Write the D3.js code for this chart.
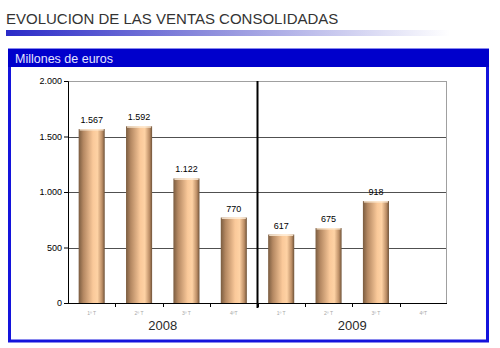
<!DOCTYPE html>
<html>
<head>
<meta charset="utf-8">
<script src="https://cdn.jsdelivr.net/npm/d3@7"></script>
<style>
  html, body { margin: 0; padding: 0; background: #fff; }
  svg { display: block; font-family: "Liberation Sans", Arial, sans-serif; }
</style>
</head>
<body>
<div id="wrapper"></div>
<script>
// ventas por trimestre, millones de euros
const years = ["2008", "2009"]
const quarters = ["1º T", "2º T", "3º T", "4ºT"]
const sales2008 = [1567, 1592, 1122, 770]
const sales2009 = [617, 675, 918, null]
const yTicks = [0, 500, 1000, 1500, 2000]

const dataset = []
quarters.forEach((q, i) => dataset.push({ year: "2008", q: q, key: "2008-" + i, value: sales2008[i] }))
quarters.forEach((q, i) => dataset.push({ year: "2009", q: q, key: "2009-" + i, value: sales2009[i] }))

const dms = {
  width: 500,
  height: 348,
  margin: { top: 81, right: 53, bottom: 45, left: 68 },
}
dms.boundedWidth = dms.width - dms.margin.left - dms.margin.right
dms.boundedHeight = dms.height - dms.margin.top - dms.margin.bottom

const es = d3.formatLocale({ decimal: ",", thousands: ".", grouping: [3], currency: ["", " €"] })
const fmt = es.format(",d")

const svg = d3.select("#wrapper")
  .append("svg")
  .attr("width", dms.width)
  .attr("height", dms.height)

const defs = svg.append("defs")

// title underline fading to white
const fade = defs.append("linearGradient").attr("id", "fade")
fade.append("stop").attr("offset", "0%").attr("stop-color", "#2a2ac8")
fade.append("stop").attr("offset", "45%").attr("stop-color", "#8c8cdc")
fade.append("stop").attr("offset", "100%").attr("stop-color", "#fff")

// cylinder look for the bars
const cyl = defs.append("linearGradient").attr("id", "cyl")
cyl.append("stop").attr("offset", "0%").attr("stop-color", "#7a5c40")
cyl.append("stop").attr("offset", "18%").attr("stop-color", "#b48862")
cyl.append("stop").attr("offset", "55%").attr("stop-color", "#fac99a")
cyl.append("stop").attr("offset", "72%").attr("stop-color", "#fed2a4")
cyl.append("stop").attr("offset", "90%").attr("stop-color", "#bc8e66")
cyl.append("stop").attr("offset", "100%").attr("stop-color", "#6e5238")

// heading
svg.append("text")
  .attr("x", 6)
  .attr("y", 24)
  .attr("font-size", 15)
  .attr("fill", "#333")
  .text("EVOLUCION DE LAS VENTAS CONSOLIDADAS")

svg.append("rect")
  .attr("x", 6).attr("y", 30)
  .attr("width", 444).attr("height", 6)
  .attr("fill", "url(#fade)")

// framed panel
svg.append("rect")
  .attr("x", 9.5).attr("y", 50)
  .attr("width", 478).attr("height", 291)
  .attr("fill", "#fff")
  .attr("stroke", "#1414dc")
  .attr("stroke-width", 3)

svg.append("rect")
  .attr("x", 8).attr("y", 49)
  .attr("width", 481).attr("height", 18)
  .attr("fill", "#0000cc")

svg.append("text")
  .attr("x", 15)
  .attr("y", 63)
  .attr("font-size", 12.5)
  .attr("fill", "#e4e4ff")
  .text("Millones de euros")

const bounds = svg.append("g")
  .attr("transform", `translate(${dms.margin.left},${dms.margin.top})`)

// scales
const xScale = d3.scaleBand()
  .domain(dataset.map(d => d.key))
  .range([0, dms.boundedWidth])
  .paddingInner(0.45)
  .paddingOuter(0.225)

const slot = d3.scaleBand()
  .domain(dataset.map(d => d.key))
  .range([0, dms.boundedWidth])

const yearScale = d3.scaleBand()
  .domain(years)
  .range([0, dms.boundedWidth])

const yScale = d3.scaleLinear()
  .domain([0, 2000])
  .range([dms.boundedHeight, 0])

// gridlines
bounds.append("g")
  .selectAll("line")
  .data(yTicks.filter(t => t > 0))
  .join("line")
  .attr("x1", 0)
  .attr("x2", dms.boundedWidth)
  .attr("y1", d => Math.round(yScale(d)) + 0.5)
  .attr("y2", d => Math.round(yScale(d)) + 0.5)
  .attr("stroke", d => d === 2000 ? "#a0a0a0" : "#505050")

bounds.append("line")
  .attr("x1", dms.boundedWidth - 0.5)
  .attr("x2", dms.boundedWidth - 0.5)
  .attr("y1", 0)
  .attr("y2", dms.boundedHeight)
  .attr("stroke", "#a0a0a0")

// bars
const bars = bounds.append("g")
  .selectAll("g")
  .data(dataset.filter(d => d.value != null))
  .join("g")

bars.append("rect")
  .attr("x", d => xScale(d.key))
  .attr("y", d => yScale(d.value))
  .attr("width", xScale.bandwidth())
  .attr("height", d => dms.boundedHeight - yScale(d.value))
  .attr("fill", "url(#cyl)")

bars.append("rect")
  .attr("x", d => xScale(d.key) + 1)
  .attr("y", d => yScale(d.value))
  .attr("width", xScale.bandwidth() - 2)
  .attr("height", 1.5)
  .attr("fill", "#fff0dc")
  .attr("opacity", 0.8)

bars.append("text")
  .attr("x", d => xScale(d.key) + xScale.bandwidth() / 2)
  .attr("y", d => yScale(d.value) - 6)
  .attr("text-anchor", "middle")
  .attr("font-size", 9)
  .attr("fill", "#000")
  .text(d => fmt(d.value))

// y axis
const yAxis = bounds.append("g")
  .call(d3.axisLeft(yScale).tickValues(yTicks).tickSize(4).tickFormat(fmt))
yAxis.select(".domain").attr("stroke", "#000")
yAxis.selectAll(".tick line").attr("stroke", "#000")
yAxis.selectAll(".tick text")
  .attr("font-size", 9)
  .attr("fill", "#000")
  .attr("x", -6)

// x axis with quarter labels
const xAxis = bounds.append("g")
  .attr("transform", `translate(0,${dms.boundedHeight})`)
  .call(d3.axisBottom(slot).tickSize(0).tickFormat(k => dataset.find(d => d.key === k).q))
xAxis.select(".domain").attr("stroke", "#000").attr("d", `M0,0.5H${dms.boundedWidth}`)
xAxis.selectAll(".tick text")
  .attr("font-size", 5)
  .attr("fill", "#a8a8a8")
  .attr("y", 8)

bounds.append("g")
  .selectAll("line")
  .data(slot.domain().slice(1))
  .join("line")
  .attr("x1", d => Math.round(slot(d)) + 0.5)
  .attr("x2", d => Math.round(slot(d)) + 0.5)
  .attr("y1", dms.boundedHeight)
  .attr("y2", dms.boundedHeight + 4)
  .attr("stroke", "#000")

// year separator
bounds.append("line")
  .attr("x1", yearScale("2009"))
  .attr("x2", yearScale("2009"))
  .attr("y1", 0)
  .attr("y2", dms.boundedHeight + 5)
  .attr("stroke", "#000")
  .attr("stroke-width", 2)

bounds.append("g")
  .selectAll("text")
  .data(years)
  .join("text")
  .attr("x", d => yearScale(d) + yearScale.bandwidth() / 2)
  .attr("y", dms.boundedHeight + 27)
  .attr("text-anchor", "middle")
  .attr("font-size", 13)
  .attr("fill", "#2a2a2a")
  .text(d => d)
</script>
</body>
</html>
